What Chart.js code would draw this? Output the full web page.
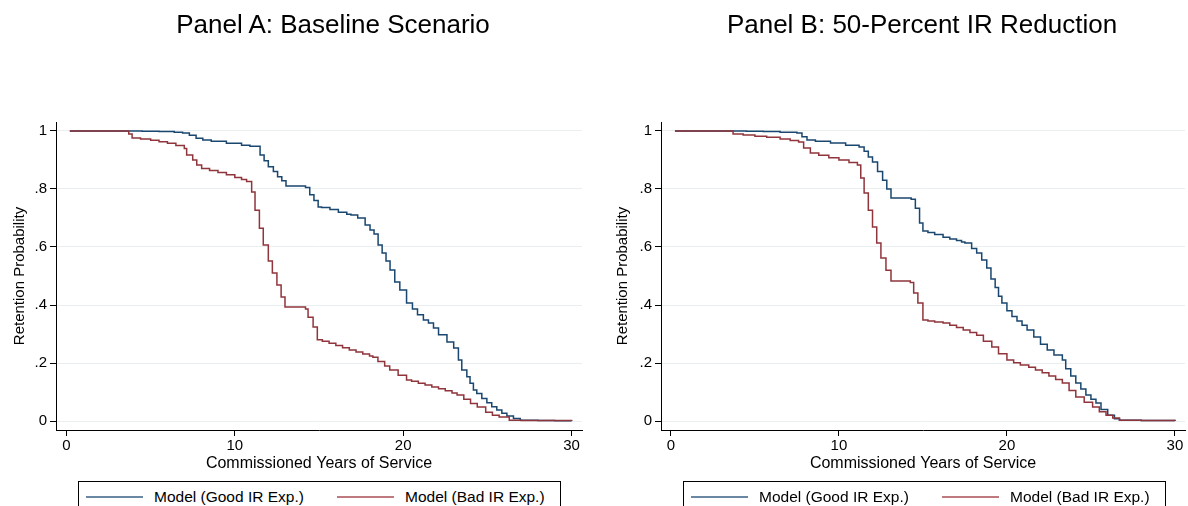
<!DOCTYPE html>
<html>
<head>
<meta charset="utf-8">
<script src="https://cdn.jsdelivr.net/npm/chart.js@4.4.1/dist/chart.umd.min.js"></script>
<style>
  html, body { margin: 0; padding: 0; background: #fff; overflow: hidden; }
  body { width: 1188px; height: 506px; position: relative; font-family: "Liberation Sans", Arial, sans-serif; }
  canvas { position: absolute; top: 0; }
  .ptitle { position: absolute; top: 9px; width: 500px; text-align: center; font-size: 26px; line-height: 30px; color: #000; white-space: nowrap; }
  .legend { position: absolute; top: 481px; width: 481px; height: 40px; border: 1px solid #000; background: #fff; }
  .lline { position: absolute; top: 14px; width: 57px; height: 2px; }
  .ltext { position: absolute; top: 6px; font-size: 15.5px; line-height: 18px; color: #000; white-space: nowrap; }
</style>
</head>
<body>
<canvas id="cA" width="594" height="506" style="left:0px"></canvas>
<canvas id="cB" width="594" height="506" style="left:594px"></canvas>
<div class="ptitle" id="tA" style="left:83px"></div>
<div class="ptitle" id="tB" style="left:672px"></div>
<div class="legend" id="lgA" style="left:78px"></div>
<div class="legend" id="lgB" style="left:683px"></div>
<script>
// ---------------- DATA ----------------
const panelTitles = ["Panel A: Baseline Scenario", "Panel B: 50-Percent IR Reduction"];
const seriesNames = ["Model (Good IR Exp.)", "Model (Bad IR Exp.)"];
const xTitle = "Commissioned Years of Service";
const yTitle = "Retention Probability";
const xTicks = [0, 10, 20, 30];
const yTicks = [0, 0.2, 0.4, 0.6, 0.8, 1];
const yTickLabels = ["0", ".2", ".4", ".6", ".8", "1"];

// Panel A, good IR experience
const aGoodT = [0.2,3.6,4.5,5.5,6.4,6.9,7.3,7.7,8.1,8.6,9.5,10.4,10.9,11.5,11.74,11.99,12.29,12.54,12.79,13.04,14.2,14.45,14.7,14.95,15.15,15.65,16.15,16.65,16.9,17.3,17.74,18.03,18.27,18.51,18.75,18.98,19.22,19.5,19.8,20.2,20.55,20.85,21.2,21.5,21.8,22.1,22.6,23.0,23.28,23.48,23.78,23.97,24.17,24.37,24.67,24.97,25.26,25.56,25.86,26.16,26.55,26.95,28,29,30];
const aGoodV = [1,1,0.999,0.998,0.996,0.993,0.985,0.975,0.969,0.965,0.958,0.951,0.947,0.917,0.897,0.877,0.86,0.842,0.828,0.81,0.805,0.78,0.76,0.738,0.736,0.729,0.72,0.713,0.71,0.70,0.676,0.659,0.645,0.607,0.579,0.552,0.521,0.479,0.452,0.407,0.386,0.366,0.348,0.338,0.321,0.297,0.272,0.252,0.21,0.176,0.153,0.13,0.107,0.095,0.078,0.063,0.049,0.038,0.027,0.017,0.009,0.003,0.002,0.001,0];
// Panel A, bad IR experience
const aBadT = [0.2,3.6,3.7,3.9,4.4,5,5.5,6,6.5,7.0,7.14,7.5,7.74,8.03,8.5,9,9.5,10,10.4,10.7,11.0,11.2,11.46,11.69,11.99,12.23,12.5,12.75,12.98,14.2,14.35,14.65,14.9,15.2,15.6,16.0,16.4,16.8,17.2,17.6,18.0,18.2,18.5,18.9,19.2,19.7,20.2,20.5,20.9,21.3,21.7,22.1,22.5,22.9,23.2,23.6,24.0,24.4,24.9,25.3,25.7,26.3,27,30];
const aBadV = [1,1,0.99,0.976,0.972,0.968,0.963,0.958,0.95,0.94,0.917,0.9,0.883,0.871,0.864,0.857,0.849,0.84,0.833,0.826,0.79,0.727,0.665,0.607,0.552,0.51,0.469,0.428,0.393,0.386,0.358,0.324,0.28,0.275,0.268,0.26,0.253,0.245,0.238,0.231,0.224,0.22,0.205,0.19,0.176,0.158,0.141,0.137,0.13,0.124,0.117,0.111,0.104,0.097,0.09,0.075,0.06,0.048,0.03,0.02,0.014,0.003,0.002,0];
// Panel B, good IR experience
const bGoodT = [0.24,3.6,4.5,5.5,6.5,7.5,7.8,8.1,8.6,9.5,10.4,11.2,11.5,11.75,12.0,12.3,12.6,12.85,13.1,14.3,14.55,14.8,15.0,15.3,15.7,16.2,16.6,17.0,17.3,17.5,17.9,18.2,18.5,18.8,19.05,19.3,19.5,19.7,20.0,20.3,20.6,20.9,21.2,21.6,22.0,22.4,22.8,23.3,23.5,23.8,24.1,24.4,24.7,25.0,25.3,25.6,26.0,26.4,26.7,28,30];
const bGoodV = [1,1,0.999,0.998,0.996,0.993,0.98,0.969,0.965,0.959,0.951,0.945,0.93,0.91,0.893,0.86,0.83,0.8,0.769,0.765,0.734,0.683,0.655,0.65,0.643,0.634,0.628,0.622,0.617,0.614,0.595,0.579,0.555,0.528,0.49,0.46,0.43,0.407,0.38,0.36,0.345,0.33,0.314,0.29,0.265,0.245,0.228,0.21,0.18,0.155,0.131,0.11,0.09,0.075,0.062,0.04,0.02,0.008,0.003,0.002,0];
// Panel B, bad IR experience
const bBadT = [0.24,3.6,3.7,4.3,5,5.7,6.5,7.1,7.6,7.9,8.3,8.8,9.4,10,10.6,11.1,11.3,11.5,11.75,12.0,12.25,12.5,12.8,13.1,14.25,14.45,14.7,15.0,15.3,15.7,16.2,16.6,17.0,17.4,17.8,18.2,18.6,19.1,19.5,20.0,20.4,20.8,21.3,21.7,22.1,22.5,22.9,23.3,23.7,24.1,24.6,25.1,25.5,25.9,26.3,26.7,28,30];
const bBadV = [1,1,0.99,0.986,0.982,0.978,0.972,0.967,0.962,0.941,0.924,0.916,0.908,0.9,0.891,0.883,0.838,0.786,0.727,0.669,0.614,0.562,0.52,0.483,0.478,0.441,0.407,0.348,0.345,0.341,0.338,0.33,0.322,0.314,0.305,0.296,0.275,0.255,0.232,0.21,0.201,0.193,0.185,0.176,0.166,0.155,0.143,0.131,0.105,0.083,0.065,0.048,0.032,0.02,0.01,0.003,0.002,0];

// ---------------- STYLE ----------------
const BLUE = "#1a476f";
const RED = "#90353b";
const FONT = "'Liberation Sans', Arial, sans-serif";
Chart.defaults.font.family = FONT;
Chart.defaults.color = "#000";

function pts(t, v) { return t.map((x, i) => ({ x: x, y: v[i] })); }

function makeChart(id, goodT, goodV, badT, badV, geo) {
  const ctx = document.getElementById(id);
  return new Chart(ctx, {
    type: "line",
    data: {
      datasets: [
        { label: seriesNames[1], data: pts(badT, badV), borderColor: RED, borderWidth: 1.5, stepped: true, pointRadius: 0, fill: false },
        { label: seriesNames[0], data: pts(goodT, goodV), borderColor: BLUE, borderWidth: 1.5, stepped: true, pointRadius: 0, fill: false }
      ]
    },
    options: {
      responsive: false,
      animation: false,
      events: [],
      layout: { padding: { top: 122, right: geo.padRight, bottom: 33, left: 0 } },
      plugins: { legend: { display: false }, tooltip: { enabled: false }, title: { display: false } },
      scales: {
        x: {
          type: "linear",
          min: geo.xMin, max: geo.xMax,
          afterBuildTicks: s => { s.ticks = xTicks.map(v => ({ value: v })); },
          afterFit: s => { s.height = 43; },
          ticks: { font: { size: 15 }, color: "#000", padding: 1, maxRotation: 0, autoSkip: false, callback: v => String(v) },
          grid: { drawOnChartArea: false, drawTicks: true, tickLength: 6, tickColor: "#000", tickWidth: 1 },
          border: { display: true, color: "#000", width: 1 },
          title: { display: true, text: xTitle, font: { size: 16 }, color: "#000", padding: 0 }
        },
        y: {
          type: "linear",
          min: -0.031, max: 1.031,
          afterBuildTicks: s => { s.ticks = yTicks.map(v => ({ value: v })); },
          afterFit: s => { s.width = geo.yWidth; },
          ticks: { font: { size: 15 }, color: "#000", padding: 3, callback: (v) => { const i = yTicks.findIndex(t => Math.abs(t - v) < 1e-9); return i >= 0 ? yTickLabels[i] : ""; } },
          grid: { drawOnChartArea: true, color: "#e9eff1", lineWidth: 1, drawTicks: true, tickLength: 6, tickColor: "#000", tickWidth: 1 },
          border: { display: true, color: "#000", width: 1 },
          title: { display: true, text: yTitle, font: { size: 15 }, color: "#000", padding: { top: geo.yTitlePad, bottom: 0 } }
        }
      }
    }
  });
}

makeChart("cA", aGoodT, aGoodV, aBadT, aBadV, { xMin: -0.62, xMax: 30.62, padRight: 12, yWidth: 56, yTitlePad: 11 });
makeChart("cB", bGoodT, bGoodV, bBadT, bBadV, { xMin: -0.59, xMax: 30.6, padRight: 3, yWidth: 67, yTitlePad: 20 });

document.getElementById("tA").textContent = panelTitles[0];
document.getElementById("tB").textContent = panelTitles[1];

function buildLegend(id) {
  const box = document.getElementById(id);
  const items = [
    { name: seriesNames[0], color: "#6a88a4", line: 7, text: 75 },
    { name: seriesNames[1], color: "#bf7a7f", line: 258, text: 326 }
  ];
  items.forEach(it => {
    const l = document.createElement("div");
    l.className = "lline";
    l.style.left = it.line + "px";
    l.style.backgroundColor = it.color;
    box.appendChild(l);
    const t = document.createElement("div");
    t.className = "ltext";
    t.style.left = it.text + "px";
    t.textContent = it.name;
    box.appendChild(t);
  });
}
buildLegend("lgA");
buildLegend("lgB");
</script>
</body>
</html>
